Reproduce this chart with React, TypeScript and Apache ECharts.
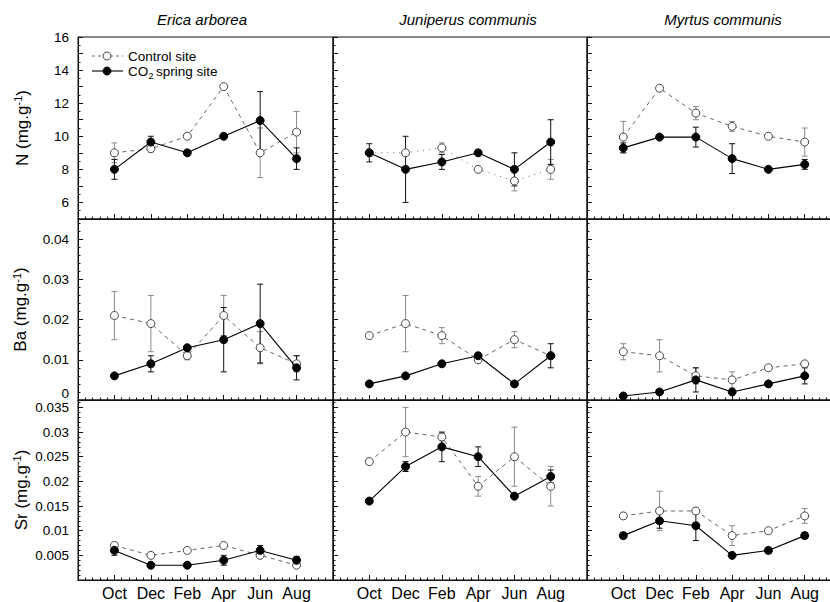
import React, { useEffect, useRef } from 'react';
import * as echarts from 'echarts';

// ---------- data ----------
const months = ['Oct', 'Dec', 'Feb', 'Apr', 'Jun', 'Aug'];
const monthPos = [1, 2, 3, 4, 5, 6];
const speciesNames = ['Erica arborea', 'Juniperus communis', 'Myrtus communis'];
const elementNames = ['N', 'Ba', 'Sr'];

// N (mg.g-1)
const ericaNControl = [9.0, 9.25, 10.0, 13.0, 9.0, 10.25];
const ericaNControlErr = [0.6, 0.2, 0, 0, 1.5, 1.25];
const ericaNCO2 = [8.0, 9.65, 9.0, 10.0, 10.95, 8.65];
const ericaNCO2Err = [0.6, 0.35, 0, 0, 1.75, 0.65];

const juniperusNControl = [9.0, 9.0, 9.3, 8.0, 7.3, 8.0];
const juniperusNControlErr = [0, 0, 0.3, 0, 0.6, 0.6];
const juniperusNCO2 = [9.0, 8.0, 8.45, 9.0, 8.0, 9.65];
const juniperusNCO2Err = [0.55, 2.0, 0.45, 0, 1.0, 1.35];

const myrtusNControl = [9.95, 12.9, 11.4, 10.6, 10.0, 9.65];
const myrtusNControlErr = [0.95, 0, 0.4, 0.3, 0, 0.85];
const myrtusNCO2 = [9.3, 9.95, 9.95, 8.65, 8.0, 8.3];
const myrtusNCO2Err = [0.3, 0, 0.6, 0.9, 0, 0.3];

// Ba (mg.g-1)
const ericaBaControl = [0.021, 0.019, 0.011, 0.021, 0.013, 0.009];
const ericaBaControlErr = [0.006, 0.007, 0.001, 0.005, 0.004, 0.002];
const ericaBaCO2 = [0.006, 0.009, 0.013, 0.015, 0.019, 0.008];
const ericaBaCO2Err = [0, 0.002, 0, 0.008, 0.0098, 0.003];

const juniperusBaControl = [0.016, 0.019, 0.016, 0.010, 0.015, 0.011];
const juniperusBaControlErr = [0, 0.007, 0.002, 0, 0.002, 0];
const juniperusBaCO2 = [0.004, 0.006, 0.009, 0.011, 0.004, 0.011];
const juniperusBaCO2Err = [0, 0, 0, 0, 0, 0.003];

const myrtusBaControl = [0.012, 0.011, 0.006, 0.005, 0.008, 0.009];
const myrtusBaControlErr = [0.002, 0.004, 0.002, 0.002, 0, 0];
const myrtusBaCO2 = [0.001, 0.002, 0.005, 0.002, 0.004, 0.006];
const myrtusBaCO2Err = [0, 0, 0.003, 0, 0, 0.002];

// Sr (mg.g-1)
const ericaSrControl = [0.007, 0.005, 0.006, 0.007, 0.005, 0.003];
const ericaSrControlErr = [0.0005, 0.0005, 0, 0, 0, 0];
const ericaSrCO2 = [0.006, 0.003, 0.003, 0.004, 0.006, 0.004];
const ericaSrCO2Err = [0.001, 0, 0, 0.001, 0.001, 0.0008];

const juniperusSrControl = [0.024, 0.030, 0.029, 0.019, 0.025, 0.019];
const juniperusSrControlErr = [0.0005, 0.005, 0.0008, 0.002, 0.006, 0.004];
const juniperusSrCO2 = [0.016, 0.023, 0.027, 0.025, 0.017, 0.021];
const juniperusSrCO2Err = [0, 0.001, 0.003, 0.002, 0, 0.0013];

const myrtusSrControl = [0.013, 0.014, 0.014, 0.009, 0.010, 0.013];
const myrtusSrControlErr = [0.0006, 0.004, 0.0006, 0.002, 0, 0.0015];
const myrtusSrCO2 = [0.009, 0.012, 0.011, 0.005, 0.006, 0.009];
const myrtusSrCO2Err = [0.0006, 0.0015, 0.003, 0, 0.0006, 0.0006];

// panels[row][col]
const panels = [
  [
    [ericaNControl, ericaNControlErr, ericaNCO2, ericaNCO2Err],
    [juniperusNControl, juniperusNControlErr, juniperusNCO2, juniperusNCO2Err],
    [myrtusNControl, myrtusNControlErr, myrtusNCO2, myrtusNCO2Err],
  ],
  [
    [ericaBaControl, ericaBaControlErr, ericaBaCO2, ericaBaCO2Err],
    [juniperusBaControl, juniperusBaControlErr, juniperusBaCO2, juniperusBaCO2Err],
    [myrtusBaControl, myrtusBaControlErr, myrtusBaCO2, myrtusBaCO2Err],
  ],
  [
    [ericaSrControl, ericaSrControlErr, ericaSrCO2, ericaSrCO2Err],
    [juniperusSrControl, juniperusSrControlErr, juniperusSrCO2, juniperusSrCO2Err],
    [myrtusSrControl, myrtusSrControlErr, myrtusSrCO2, myrtusSrCO2Err],
  ],
];

// ---------- layout ----------
const FONT = '"Liberation Sans", Arial, Helvetica, sans-serif';
const colLeft = [78, 333, 587];
const colWidth = [255, 254, 254];
const rowTop = [37, 219, 400];
const rowHeight = [182, 181, 180];

const yScales = [
  { min: 5, max: 16, interval: 1, minorSplit: 2, show: (v: number) => Math.abs(v % 2) < 1e-9 },
  // the Ba "0" label is drawn separately (slightly lifted) so it clears the Sr "0.035" label
  { min: 0, max: 0.045, interval: 0.01, minorSplit: 5, show: (v: number) => v > 0.0001 && v <= 0.0400001 },
  { min: 0, max: 0.0365, interval: 0.005, minorSplit: 5, show: (v: number) => v > 0.0001 && v <= 0.0350001 },
];

const fmt = (v: number) => String(parseFloat(v.toFixed(4)));

function errorBarSeries(idx: number, vals: number[], errs: number[], color: string) {
  const data: number[][] = [];
  vals.forEach((v, i) => {
    if (errs[i] > 0) data.push([monthPos[i], v - errs[i], v + errs[i]]);
  });
  return {
    type: 'custom',
    xAxisIndex: idx,
    yAxisIndex: idx,
    z: 2,
    silent: true,
    encode: { x: 0, y: [1, 2] },
    data,
    renderItem: (params: any, api: any) => {
      const x = api.value(0);
      const p1 = api.coord([x, api.value(1)]);
      const p2 = api.coord([x, api.value(2)]);
      const w = 3;
      const style = { stroke: color, lineWidth: 1 };
      return {
        type: 'group',
        children: [
          { type: 'line', shape: { x1: p1[0], y1: p1[1], x2: p2[0], y2: p2[1] }, style },
          { type: 'line', shape: { x1: p1[0] - w, y1: p1[1], x2: p1[0] + w, y2: p1[1] }, style },
          { type: 'line', shape: { x1: p2[0] - w, y1: p2[1], x2: p2[0] + w, y2: p2[1] }, style },
        ],
      };
    },
  };
}

function buildOption() {
  const grid: any[] = [];
  const xAxis: any[] = [];
  const yAxis: any[] = [];
  const series: any[] = [];

  for (let r = 0; r < 3; r++) {
    for (let c = 0; c < 3; c++) {
      const idx = r * 3 + c;
      const ys = yScales[r];
      grid.push({
        left: colLeft[c],
        top: rowTop[r],
        width: colWidth[c],
        height: rowHeight[r],
        show: true,
        borderColor: '#111',
        borderWidth: 1,
        backgroundColor: 'transparent',
        containLabel: false,
        outerBoundsMode: 'none',
      });
      xAxis.push({
        gridIndex: idx,
        type: 'value',
        min: 0,
        max: 7,
        interval: 1,
        axisLine: { show: true, onZero: false, lineStyle: { color: '#111', width: 1 } },
        axisTick: { show: true, inside: true, length: 5, lineStyle: { color: '#111' } },
        minorTick: { show: true, splitNumber: 5, length: 2.5, lineStyle: { color: '#111' } },
        splitLine: { show: false },
        minorSplitLine: { show: false },
        axisLabel: {
          show: r === 2,
          fontSize: 16,
          fontFamily: FONT,
          color: '#000',
          margin: 5,
          formatter: (v: number) => {
            const i = Math.round(v) - 1;
            return Math.abs(v - Math.round(v)) < 1e-9 && i >= 0 && i < 6 ? months[i] : '';
          },
        },
      });
      yAxis.push({
        gridIndex: idx,
        type: 'value',
        min: ys.min,
        max: ys.max,
        interval: ys.interval,
        axisLine: { show: true, onZero: false, lineStyle: { color: '#111', width: 1 } },
        axisTick: { show: true, inside: true, length: 5, lineStyle: { color: '#111' } },
        minorTick: { show: true, splitNumber: ys.minorSplit, length: 2.5, lineStyle: { color: '#111' } },
        splitLine: { show: false },
        minorSplitLine: { show: false },
        axisLabel: {
          show: c === 0,
          fontSize: 13.5,
          fontFamily: FONT,
          color: '#000',
          margin: 9,
          formatter: (v: number) => (ys.show(v) ? fmt(v) : ''),
        },
      });

      const [ctrl, ctrlErr, co2, co2Err] = panels[r][c];
      const dotted = r === 0 && c === 1;
      series.push(errorBarSeries(idx, ctrl, ctrlErr, '#8a8a8a'));
      series.push(errorBarSeries(idx, co2, co2Err, '#111'));
      series.push({
        name: 'Control site',
        type: 'line',
        xAxisIndex: idx,
        yAxisIndex: idx,
        data: monthPos.map((x, i) => [x, ctrl[i]]),
        symbol: 'circle',
        symbolSize: 8,
        z: 3,
        itemStyle: { color: '#fff', borderColor: '#444', borderWidth: 1 },
        lineStyle: { color: '#666', width: 1, type: dotted ? [1, 5] : [4, 4] },
        silent: true,
      });
      series.push({
        name: 'CO2 spring site',
        type: 'line',
        xAxisIndex: idx,
        yAxisIndex: idx,
        data: monthPos.map((x, i) => [x, co2[i]]),
        symbol: 'circle',
        symbolSize: 8,
        z: 4,
        itemStyle: { color: '#000', borderColor: '#000', borderWidth: 1 },
        lineStyle: { color: '#000', width: 1.1 },
        silent: true,
      });
    }
  }

  const titleX = [202, 468, 723];
  const nameY = [128, 309.5, 490];
  const nameX = [22, 20.5, 21];
  const graphic: any[] = [];
  speciesNames.forEach((s, i) => {
    graphic.push({
      type: 'text',
      x: titleX[i],
      y: 19,
      z: 100,
      style: {
        text: s,
        fontSize: 15,
        fontStyle: 'italic',
        fontFamily: FONT,
        fill: '#000',
        align: 'center',
        verticalAlign: 'middle',
      },
    });
  });
  elementNames.forEach((e, i) => {
    graphic.push({
      type: 'text',
      x: nameX[i],
      y: nameY[i],
      rotation: Math.PI / 2,
      z: 100,
      style: {
        text: e + ' (mg.g{sup|-1})',
        fontSize: 17,
        fontFamily: FONT,
        fill: '#000',
        align: 'center',
        verticalAlign: 'middle',
        rich: {
          sup: { fontSize: 11, fontFamily: FONT, fill: '#000', verticalAlign: 'top', padding: [0, 0, 8, 0] },
        },
      },
    });
  });
  // Ba axis "0" label, lifted a little above the panel boundary
  graphic.push({
    type: 'text',
    x: 69,
    y: 393,
    z: 100,
    style: { text: '0', fontSize: 13.5, fontFamily: FONT, fill: '#000', align: 'right', verticalAlign: 'middle' },
  });
  // legend
  graphic.push(
    { type: 'line', z: 100, shape: { x1: 92, y1: 56, x2: 123, y2: 56 }, style: { stroke: '#666', lineWidth: 1, lineDash: [3, 3] } },
    { type: 'circle', z: 101, shape: { cx: 107, cy: 56, r: 4 }, style: { fill: '#fff', stroke: '#444', lineWidth: 1 } },
    { type: 'text', z: 100, x: 128, y: 56, style: { text: 'Control site', fontSize: 13.5, fontFamily: FONT, fill: '#000', verticalAlign: 'middle' } },
    { type: 'line', z: 100, shape: { x1: 92, y1: 71, x2: 123, y2: 71 }, style: { stroke: '#000', lineWidth: 1.1 } },
    { type: 'circle', z: 101, shape: { cx: 107, cy: 71, r: 4 }, style: { fill: '#000', stroke: '#000', lineWidth: 1 } },
    { type: 'text', z: 100, x: 128, y: 71, style: { text: 'CO', fontSize: 13.5, fontFamily: FONT, fill: '#000', verticalAlign: 'middle' } },
    { type: 'text', z: 100, x: 148.5, y: 76, style: { text: '2', fontSize: 9, fontFamily: FONT, fill: '#000', verticalAlign: 'middle' } },
    { type: 'text', z: 100, x: 156, y: 71, style: { text: 'spring site', fontSize: 13.5, fontFamily: FONT, fill: '#000', verticalAlign: 'middle' } }
  );

  return {
    animation: false,
    backgroundColor: '#fff',
    textStyle: { fontFamily: FONT },
    grid,
    xAxis,
    yAxis,
    series,
    graphic,
  };
}

export default function App() {
  const ref = useRef<HTMLDivElement>(null);
  useEffect(() => {
    if (!ref.current) return;
    const chart = echarts.init(ref.current, undefined, { renderer: 'svg' });
    chart.setOption(buildOption() as any);
    return () => chart.dispose();
  }, []);
  return (
    <div
      ref={ref}
      style={{ position: 'fixed', left: 0, top: 0, width: 830, height: 602, background: '#fff' }}
    />
  );
}
